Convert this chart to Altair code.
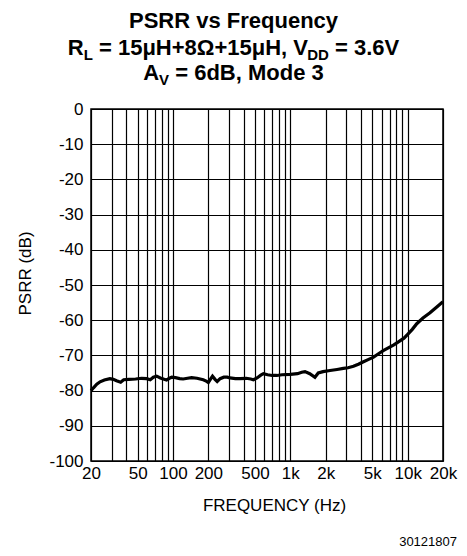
import altair as alt
import pandas as pd

# ---------------- data ----------------
freq_hz = [20, 21, 22.4, 23.9, 26, 29, 31, 33, 35.8, 38, 42, 48, 54, 59.7, 64, 68, 72.6,
           78, 84, 88, 93, 97.7, 105, 114, 122, 133, 144, 160, 181, 192, 200, 208, 217,
           228, 238, 252, 271, 290, 306, 340, 372, 420, 460, 484, 520, 560, 589, 640,
           700, 766, 850, 1000, 1150, 1250, 1334, 1464, 1620, 1730, 1900, 2180, 2500,
           2830, 3100, 3450, 3800, 4200, 4600, 5120, 5600, 6240, 6900, 7620, 8400,
           9300, 10000, 10950, 11950, 13500, 15500, 17500, 19600, 20000]
psrr_db = [-80.0, -79.2, -78.2, -77.5, -77.0, -76.6, -76.8, -77.2, -77.6, -76.9, -76.8,
           -76.7, -76.5, -76.6, -76.9, -76.2, -75.9, -76.4, -76.8, -77.0, -76.5, -76.2,
           -76.3, -76.6, -76.7, -76.5, -76.3, -76.5, -76.9, -77.3, -77.7, -76.8, -75.9,
           -76.8, -77.4, -76.6, -76.2, -76.2, -76.4, -76.6, -76.6, -76.5, -76.7, -76.9,
           -76.4, -75.6, -75.2, -75.5, -75.7, -75.7, -75.5, -75.4, -75.2, -74.8, -74.6,
           -75.2, -76.2, -75.0, -74.6, -74.3, -74.0, -73.7, -73.5, -73.1, -72.5, -71.8,
           -71.2, -70.5, -69.6, -68.6, -67.8, -67.0, -66.1, -65.1, -64.0, -62.6, -61.0,
           -59.4, -57.9, -56.4, -55.0, -54.8]

x_label_values = [20, 50, 100, 200, 500, 1000, 2000, 5000, 10000, 20000]
x_grid_values = ([20, 30, 40, 50, 60, 70, 80, 90, 100, 200, 300, 400, 500, 600, 700, 800,
                  900, 1000, 2000, 3000, 4000, 5000, 6000, 7000, 8000, 9000, 10000, 20000])
y_tick_values = [-100, -90, -80, -70, -60, -50, -40, -30, -20, -10, 0]

title_line1 = [("PSRR vs Frequency", False)]
title_line2 = [("R", False), ("L", True), (" = 15μH+8Ω+15μH, V", False), ("DD", True),
               (" = 3.6V", False)]
title_line3 = [("A", False), ("V", True), (" = 6dB, Mode 3", False)]
footnote = "30121807"
x_title = "FREQUENCY (Hz)"
y_title = "PSRR (dB)"

# ---------------- layout ----------------
FONT = "Liberation Sans"
W, H = 352, 352
PAD = {"left": 83, "top": 101, "right": 16, "bottom": 87}
CENTER_X = 233.5 - 8 - PAD["left"]  # page centre in plot coordinates
MAIN_SIZE, SUB_SIZE = 22, 15
SUB_DROP = 5

# Arial/Liberation Sans Bold advance widths (per 1000 em)
BOLD_W = {" ": 278, ",": 278, ".": 278, "=": 584, "+": 584, "A": 722, "B": 722,
          "D": 722, "F": 611, "H": 722, "L": 611, "M": 833, "P": 667, "R": 722, "S": 667,
          "V": 667, "c": 556, "d": 611, "e": 556, "n": 611, "o": 611, "q": 611, "r": 389,
          "s": 556, "u": 611, "v": 556, "y": 556, "μ": 611, "Ω": 768}


def text_width(s, size):
    return sum(BOLD_W.get(ch, 556) for ch in s) / 1000.0 * size


def title_layers(pieces, baseline_y):
    widths = [text_width(t, SUB_SIZE if sub else MAIN_SIZE) for t, sub in pieces]
    x = CENTER_X - sum(widths) / 2.0
    layers = []
    for (t, sub), w in zip(pieces, widths):
        size = SUB_SIZE if sub else MAIN_SIZE
        stripped = t.lstrip(" ")
        lead = text_width(t[: len(t) - len(stripped)], size)
        layers.append(
            alt.Chart(alt.Data(values=[{}])).mark_text(
                text=stripped, align="left", baseline="alphabetic", font=FONT,
                fontSize=size, fontWeight="bold", color="black"
            ).encode(x=alt.value(x + lead),
                     y=alt.value(baseline_y + (SUB_DROP if sub else 0)))
        )
        x += w
    return layers


df = pd.DataFrame({"freq": freq_hz, "psrr": psrr_db})

label_set = ",".join(str(v) for v in x_label_values)
x_label_expr = (
    f"indexof([{label_set}], datum.value) >= 0 ? "
    "(datum.value >= 1000 ? (datum.value / 1000) + 'k' : '' + datum.value) : ''"
)

line = alt.Chart(df).mark_line(color="black", strokeWidth=3.2).encode(
    x=alt.X(
        "freq:Q",
        scale=alt.Scale(type="log", domain=[20, 20000], nice=False),
        axis=alt.Axis(
            values=x_grid_values, labelExpr=x_label_expr, grid=True, gridColor="black",
            gridWidth=1.2, gridOpacity=1, ticks=False, domain=False,
            labelFont=FONT, labelFontSize=17, labelColor="black", labelPadding=4,
            labelOverlap=False, labelFlush=False, title=x_title, titleFont=FONT,
            titleFontSize=17, titleFontWeight="normal", titleColor="black",
            titleX=183, titleY=36, titleBaseline="top", titleAlign="center",
        ),
    ),
    y=alt.Y(
        "psrr:Q",
        scale=alt.Scale(domain=[-100, 0], nice=False),
        axis=alt.Axis(
            values=y_tick_values, labelExpr="'' + datum.value", grid=True,
            gridColor="black", gridWidth=1.2, gridOpacity=1, ticks=False, domain=False,
            labelFont=FONT, labelFontSize=17, labelColor="black", labelPadding=8,
            title=y_title, titleFont=FONT, titleFontSize=17, titleFontWeight="normal",
            titleColor="black", titleX=-61, titleY=164, titleAngle=270,
            titleBaseline="alphabetic", titleAlign="center",
        ),
    ),
)

layers = [line]
layers += title_layers(title_line1, -81)
layers += title_layers(title_line2, -54)
layers += title_layers(title_line3, -29)
layers.append(
    alt.Chart(alt.Data(values=[{}])).mark_text(
        text=footnote, align="right", baseline="alphabetic", font=FONT, fontSize=13,
        color="black"
    ).encode(x=alt.value(457 - 8 - PAD["left"]), y=alt.value(546 - 8 - PAD["top"]))
)

chart = alt.layer(*layers).properties(
    width=W, height=H,
    autosize=alt.AutoSizeParams(type="none"),
    padding=PAD,
    background="white",
).configure_view(stroke="black", strokeWidth=1.5)

chart.save("out.html", embed_options={"renderer": "svg", "actions": False})
